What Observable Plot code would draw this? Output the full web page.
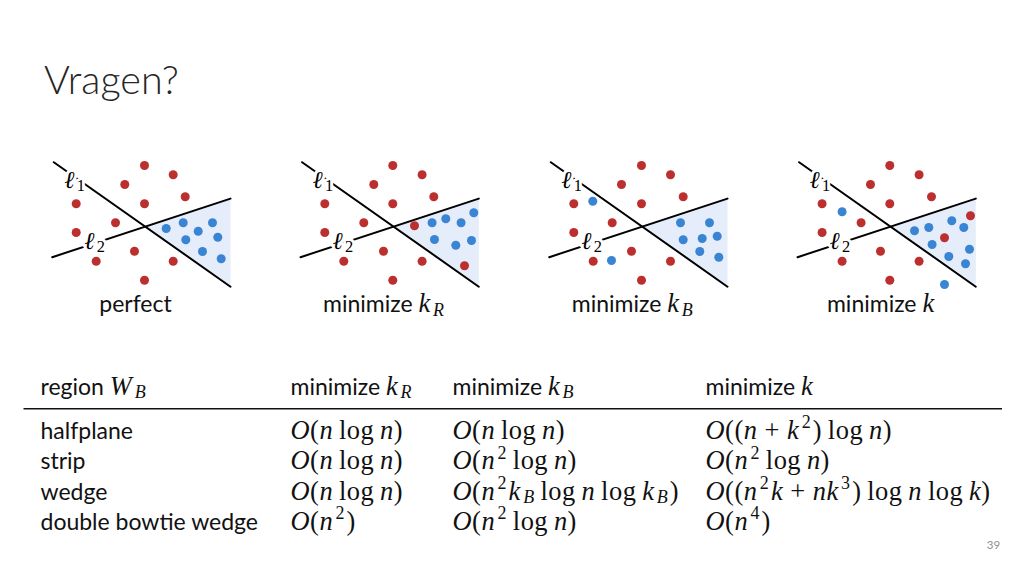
<!DOCTYPE html>
<html><head><meta charset="utf-8">
<script src="https://cdn.jsdelivr.net/npm/d3@7"></script>
<script src="https://cdn.jsdelivr.net/npm/@observablehq/plot@0.6"></script>
<style>
html,body{margin:0;padding:0;background:#fff;}
#page{position:relative;width:1024px;height:576px;overflow:hidden;background:#fff;}
#title{position:relative;height:130px;}
#title h1{position:absolute;left:44px;top:59px;margin:0;font:300 39.5px/39.5px Lato, "Open Sans", sans-serif;color:#262626;}
#chart svg{display:block;}
</style></head>
<body><div id="page"><div id="title"><h1>Vragen?</h1></div><div id="chart"></div></div>
<script>
// ---------- data ----------
const panelCaptions = ["perfect", "minimize $k_R$", "minimize $k_B$", "minimize $k$"];
const lineNames = ["$\\ell_1$", "$\\ell_2$"];
const redPoints = [
  [[104,15],[132.7,24.3],[84.3,34],[144.7,46.3],[35.7,53.3],[104,53.3],[75,72.3],[35.7,82],[94,100.7],[55.7,110.7],[132.7,110.7],[104,129.7]],
  [[104,15],[133.3,24.3],[85,34],[145,46.3],[36,53.3],[104,53.3],[75,72.3],[125.7,75.3],[36,82],[94.7,100.7],[55,110.7],[133.3,110.7],[104,129.7],[175.7,115.3]],
  [[104,15],[133,24.3],[84,34],[145.7,46.3],[36.3,53.3],[104,53.3],[74.7,72.3],[36.3,82],[94,100.7],[55.7,110.7],[133,110.7],[104,129.7]],
  [[104,15],[133.3,24.3],[84.7,34],[145.7,46.3],[36.3,53.3],[104,53.3],[75.3,72.3],[36.3,82],[94.7,100.7],[56.3,110.7],[133.3,110.7],[104,129.7],[158.7,87.3],[184.7,65.3]]
];
const bluePoints = [
  [[125.7,78],[142.7,72.3],[172,72.3],[157.7,80.7],[145.3,89.3],[177.3,86.7],[162,101],[180.7,108.3]],
  [[143.3,72.3],[157,68.3],[172.3,72.3],[185,62.3],[145.7,89],[167,94.7],[182.7,90]],
  [[55.3,50.7],[74,110],[143,72.3],[172,72.3],[145.7,89.3],[164.7,88],[179.7,85.7],[162.3,101],[181.3,106.7]],
  [[56.3,61.3],[128.7,80.3],[143,77],[166,70.3],[178,77],[146.3,94],[163,106],[183.7,98.7],[179.7,113.3],[158.7,134]]
];
const line1 = [[13.3,11.7],[190,136.2]];
const line2 = [[11.7,106.7],[190,48.1]];
const wedge = [[104.7,76.1],[190,48.1],[190,136.2]];

const tableHeader = ["region $W_B$", "minimize $k_R$", "minimize $k_B$", "minimize $k$"];
const regions = ["halfplane", "strip", "wedge", "double bowtie wedge"];
const minKR = ["$O(n\\log n)$", "$O(n\\log n)$", "$O(n\\log n)$", "$O(n^2)$"];
const minKB = ["$O(n\\log n)$", "$O(n^2\\log n)$", "$O(n^2k_B\\log n\\log k_B)$", "$O(n^2\\log n)$"];
const minK  = ["$O((n+k^2)\\log n)$", "$O(n^2\\log n)$", "$O((n^2k+nk^3)\\log n\\log k)$", "$O(n^4)$"];
const pageNumber = "39";

// ---------- layout / style ----------
const RED = "#bc2f2f", BLUE = "#3a84d4", WEDGE = "#e4edf9";
const SANS = "Lato, 'Open Sans', sans-serif";
const MATH = "'Liberation Serif', 'DejaVu Serif', serif";
const ELL = "'DejaVu Serif', serif";
const MATH_SCALE = 1.15;
const panelX = [40, 288.3, 537, 785.3], panelY = 150;
const labelPos = [[24, 37.3], [44, 98.3]];
const captionPos = [95, 161.7];
const colX = [40, 290, 452, 705];
const headerY = 394, rowY0 = 438.5, rowStep = 30.3;
const ruleRow = {y: 408.3, x1: 23.5, x2: 1002};
const TOP = 130, W = 1024, H = 576;

// ---------- build tables ----------
const dots = [];
redPoints.forEach((pts, p) => pts.forEach(([x, y]) => dots.push({p, x, y, kind: "red"})));
bluePoints.forEach((pts, p) => pts.forEach(([x, y]) => dots.push({p, x, y, kind: "blue"})));
const lines = [], wedges = [], labels = [], captions = [];
panelCaptions.forEach((cap, p) => {
  [line1, line2].forEach((ln, k) => ln.forEach(([x, y]) => lines.push({p, z: p + "-" + k, x, y})));
  wedge.forEach(([x, y]) => wedges.push({p, x, y}));
  lineNames.forEach((t, k) => labels.push({p, x: labelPos[k][0], y: labelPos[k][1], text: t}));
  captions.push({p, x: captionPos[0], y: captionPos[1], text: cap});
});
const gx = d => panelX[d.p] + d.x, gy = d => panelY + d.y;
const cells = [];
tableHeader.forEach((t, c) => cells.push({x: colX[c], y: headerY, text: t}));
[regions, minKR, minKB, minK].forEach((col, c) => col.forEach((t, r) => cells.push({x: colX[c], y: rowY0 + r * rowStep, text: t})));

const chart = Plot.plot({
  width: W, height: H - TOP,
  marginTop: 0, marginRight: 0, marginBottom: 0, marginLeft: 0,
  x: {domain: [0, W], range: [0, W], axis: null},
  y: {domain: [TOP, H], range: [0, H - TOP], axis: null},
  style: {background: "#fff", color: "#111"},
  marks: [
    Plot.line(wedges, {x: gx, y: gy, z: "p", fill: WEDGE, stroke: "none"}),
    Plot.line(lines, {x: gx, y: gy, z: "z", stroke: "#000", strokeWidth: 2}),
    Plot.text(labels, {x: gx, y: gy, text: "text", textAnchor: "start", lineAnchor: "bottom", fontSize: 21, fill: "#000", stroke: "white", strokeWidth: 6, paintOrder: "stroke"}),
    Plot.dot(dots.filter(d => d.kind === "red"), {x: gx, y: gy, r: 4.5, fill: RED, stroke: "none"}),
    Plot.dot(dots.filter(d => d.kind === "blue"), {x: gx, y: gy, r: 4.5, fill: BLUE, stroke: "none"}),
    Plot.text(captions, {x: gx, y: gy, text: "text", textAnchor: "middle", lineAnchor: "bottom", fontSize: 23, fontFamily: SANS, fill: "#111"}),
    Plot.text(cells, {x: "x", y: "y", text: "text", textAnchor: "start", lineAnchor: "bottom", fontSize: 23, fontFamily: SANS, fill: "#111"}),
    Plot.ruleY([ruleRow], {y: "y", x1: "x1", x2: "x2", stroke: "#111", strokeWidth: 1.5}),
    Plot.text([{x: 993, y: 548, text: pageNumber}], {x: "x", y: "y", text: "text", textAnchor: "middle", lineAnchor: "bottom", fontSize: 11.5, fontFamily: SANS, fill: "#8f8f8f"})
  ]
});
document.getElementById("chart").appendChild(chart);

// ---------- typeset $...$ segments into tspans ----------
function parseMath(s) {
  const out = [];
  let i = 0;
  const thin = {text: " ", italic: false, thin: true};
  while (i < s.length) {
    const c = s[i];
    if (s.startsWith("\\log", i)) { out.push(thin, {text: "log", italic: false}, thin); i += 4; continue; }
    if (s.startsWith("\\ell", i)) { out.push({text: "\u2113", italic: true, family: ELL}); i += 4; continue; }
    if (c === "^" || c === "_") {
      i++;
      let arg;
      if (s[i] === "{") { const j = s.indexOf("}", i); arg = s.slice(i + 1, j); i = j + 1; }
      else { arg = s[i]; i++; }
      parseMath(arg).forEach(t => out.push({...t, script: c === "^" ? "sup" : "sub"}));
      continue;
    }
    if (/[A-Za-z]/.test(c)) { out.push({text: c, italic: true}); i++; continue; }
    if (c === "+") { out.push({text: " + ", italic: false}); i++; continue; }
    if (c === " ") { i++; continue; }
    out.push({text: c, italic: false}); i++;
  }
  return out;
}
const NS = "http://www.w3.org/2000/svg";
d3.select(chart).selectAll("text").each(function () {
  const raw = this.textContent;
  if (!raw.includes("$")) return;
  const fs = parseFloat(getComputedStyle(this).fontSize);
  const mfs = fs * MATH_SCALE;
  this.textContent = "";
  this.style.whiteSpace = "pre";
  let shift = 0;
  const add = (str, o) => {
    const ts = document.createElementNS(NS, "tspan");
    ts.textContent = str;
    ts.setAttribute("font-family", o.family);
    ts.setAttribute("font-style", o.italic ? "italic" : "normal");
    ts.setAttribute("font-size", o.size);
    if (o.spacing) ts.setAttribute("letter-spacing", o.spacing);
    if (o.dx) ts.setAttribute("dx", o.dx);
    const target = o.shift || 0;
    if (target !== shift) { ts.setAttribute("dy", target - shift); shift = target; }
    this.appendChild(ts);
  };
  raw.split("$").forEach((seg, k) => {
    if (!seg) return;
    if (k % 2 === 0) { add(seg, {family: SANS, size: fs}); return; }
    let prevScript = null;
    parseMath(seg).forEach(t => {
      const sc = t.script || null;
      const dx = (sc && sc !== prevScript) ? 0.09 * mfs : (!sc && prevScript && !t.thin) ? 0.06 * mfs : 0;
      prevScript = sc;
      add(t.text, {
        family: t.family || MATH, italic: t.italic, dx,
        size: t.thin ? mfs * 0.8 : sc ? mfs * 0.68 : mfs,
        spacing: t.family ? 0 : 0.5,
        shift: sc === "sup" ? -0.4 * mfs : sc === "sub" ? 0.14 * mfs : 0
      });
    });
  });
});
</script>
</body></html>
